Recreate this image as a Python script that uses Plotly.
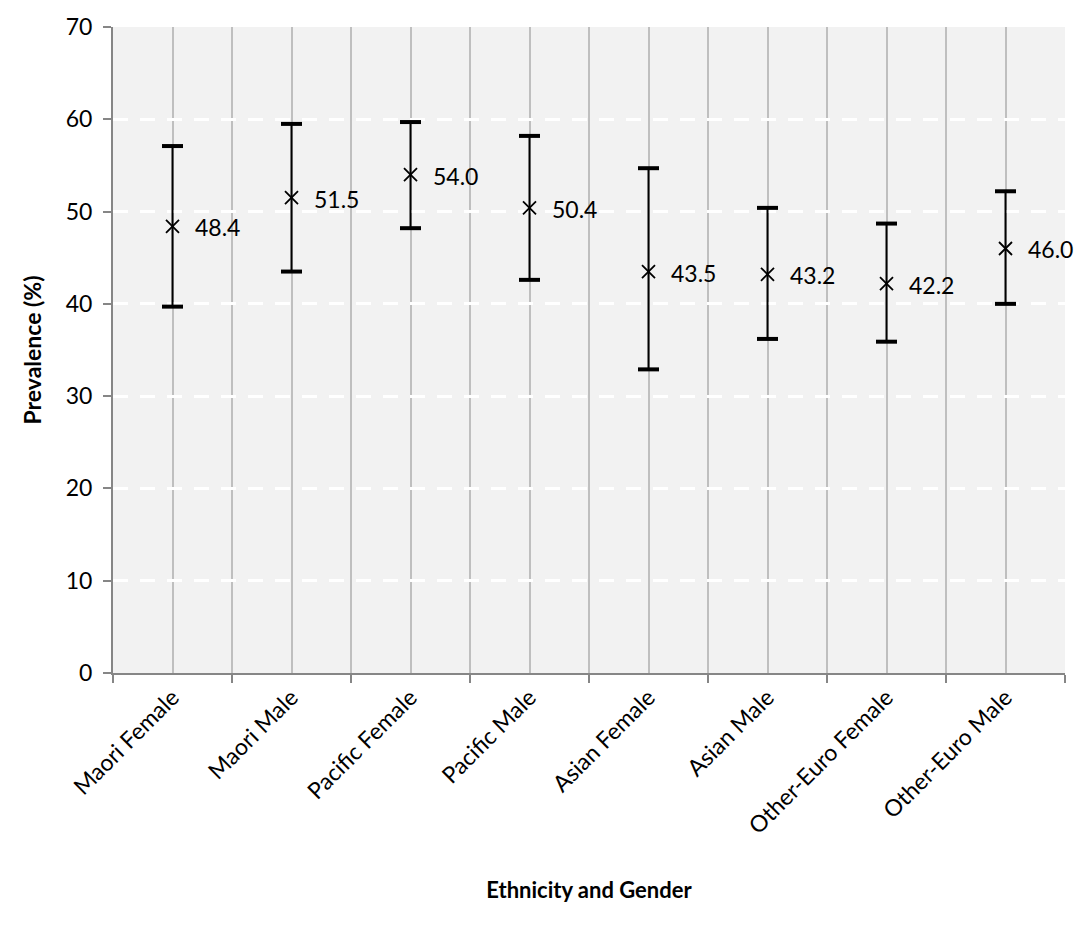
import plotly.graph_objects as go

categories = ["Maori Female", "Maori Male", "Pacific Female", "Pacific Male",
              "Asian Female", "Asian Male", "Other-Euro Female", "Other-Euro Male"]
prevalence = [48.4, 51.5, 54.0, 50.4, 43.5, 43.2, 42.2, 46.0]
upper_ci = [57.1, 59.5, 59.7, 58.2, 54.7, 50.4, 48.7, 52.2]
lower_ci = [39.7, 43.5, 48.2, 42.6, 32.9, 36.2, 35.9, 40.0]
y_ticks = [0, 10, 20, 30, 40, 50, 60, 70]

FONT = "Lato, 'Open Sans', sans-serif"
FS = 23
xpos = list(range(len(categories)))
err_plus = [u - p for u, p in zip(upper_ci, prevalence)]
err_minus = [p - l for p, l in zip(prevalence, lower_ci)]

fig = go.Figure()
# vertical CI lines
fig.add_trace(go.Scatter(
    x=xpos, y=prevalence, mode="markers",
    marker=dict(size=0.1, color="rgba(0,0,0,0)"),
    error_y=dict(type="data", symmetric=False, array=err_plus, arrayminus=err_minus,
                 color="black", thickness=2, width=0),
    hoverinfo="skip", showlegend=False))
# caps
fig.add_trace(go.Scatter(
    x=xpos + xpos, y=upper_ci + lower_ci, mode="markers",
    marker=dict(symbol="line-ew", size=15, line=dict(color="black", width=4)),
    hoverinfo="skip", showlegend=False))
# point estimates
fig.add_trace(go.Scatter(
    x=xpos, y=prevalence, mode="markers",
    marker=dict(symbol="x-thin", size=13, line=dict(color="black", width=1.8)),
    showlegend=False))

# value labels
for xi, v in zip(xpos, prevalence):
    fig.add_annotation(x=xi, y=v, text=f"{v:.1f}", showarrow=False,
                       xanchor="left", yanchor="middle", xshift=20, yshift=-1,
                       font=dict(family=FONT, size=FS, color="black"))

boundaries = [i - 0.5 for i in range(len(categories) + 1)]

fig.update_layout(
    width=1081, height=940,
    margin=dict(l=113, r=16, t=22, b=267),
    paper_bgcolor="white", plot_bgcolor="#f2f2f2",
    font=dict(family=FONT, size=FS, color="black"),
    xaxis=dict(
        range=[-0.5, len(categories) - 0.5],
        tickmode="array", tickvals=xpos, ticktext=categories,
        tickangle=-45, ticks="", showgrid=True, gridcolor="#bfbfbf", gridwidth=1.5,
        showline=True, linecolor="#868686", linewidth=2,
        tickfont=dict(family=FONT, size=FS, color="black"),
        minor=dict(tickmode="array", tickvals=boundaries, ticks="outside", ticklen=8,
                   tickcolor="#868686", tickwidth=1.5, showgrid=True,
                   gridcolor="#bfbfbf", gridwidth=1.5),
        zeroline=False,
        title=dict(text="<b>Ethnicity and Gender</b>", standoff=45,
                   font=dict(family=FONT, size=22, color="black")),
    ),
    yaxis=dict(
        range=[0, 70], tickmode="array", tickvals=y_ticks,
        ticks="outside", ticklen=8, tickcolor="#868686", tickwidth=1.5,
        ticklabelstandoff=6,
        showgrid=True, gridcolor="white", griddash="15px,12px", gridwidth=2.5,
        showline=True, linecolor="#868686", linewidth=2, zeroline=False,
        tickfont=dict(family=FONT, size=FS, color="black"),
        title=dict(text="<b>Prevalence (%)</b>", standoff=18,
                   font=dict(family=FONT, size=23, color="black")),
    ),
)

fig.write_html("out.html")
